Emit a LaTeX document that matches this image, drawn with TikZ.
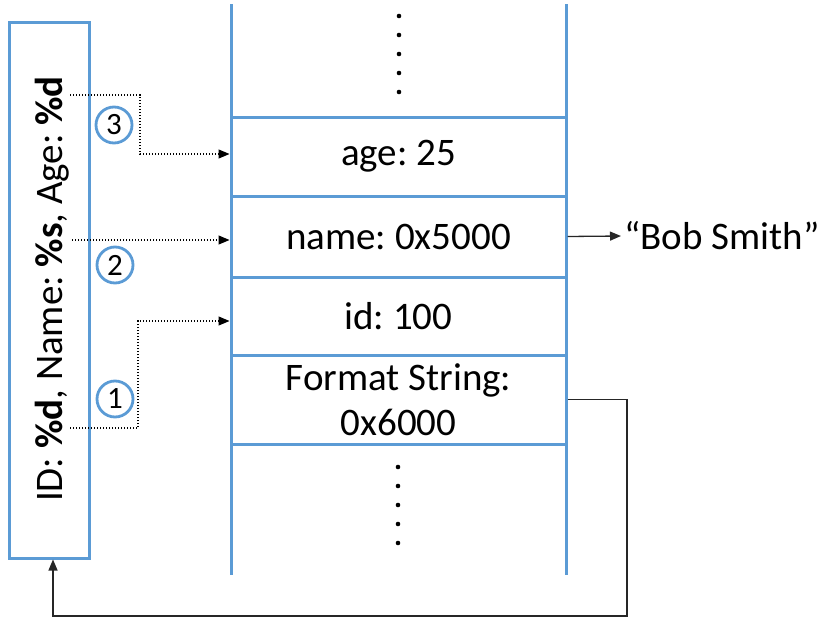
\documentclass[tikz,border=0pt]{standalone}
\usepackage{fontspec}
\setmainfont{Carlito}
\frenchspacing
\usetikzlibrary{arrows.meta}
\definecolor{stackblue}{HTML}{5B9BD5}
\begin{document}
\begin{tikzpicture}[x=1pt,y=-1pt,
  blueline/.style={draw=stackblue,line width=3pt},
  cell/.style={draw=stackblue,line width=3pt,minimum width=335pt,inner sep=0pt,
    font=\fontsize{39}{45}\selectfont\frenchspacing,align=center},
  ptr/.style={dash pattern=on 1.2pt off 1.8pt,line width=1.2pt,
    -{Triangle[length=11pt,width=9pt]}},
  conn/.style={line width=1.3pt,draw=black!85,-{Triangle[length=11pt,width=9pt]}},
  num/.style={circle,draw=stackblue,line width=2.8pt,minimum size=36pt,inner sep=0pt,
    font=\fontsize{31}{31}\selectfont},
  bigtext/.style={font=\fontsize{39}{45}\selectfont\frenchspacing},
]
\useasboundingbox (0,0) rectangle (824,621);

% stack cells
\node[cell,minimum height=79pt] (age) at (398.5,156.5) {age: 25};
\node[cell,minimum height=81pt] (name) at (398.5,236.5) {name: 0x5000};
\node[cell,minimum height=78pt] (id) at (398.5,316) {id: 100};
\node[cell,minimum height=89pt] (fmt) at (398.5,399.5) {Format String:\\0x6000};
\draw[blueline] (231,4) -- (231,575);
\draw[blueline] (566,4) -- (566,575);

% dots
\foreach \yy in {16,35,54,73,92} \fill (399,\yy) circle (2.3pt);
\foreach \yy in {467,486,505,524,543} \fill (398,\yy) circle (2.3pt);

% format string box
\node[draw=stackblue,line width=3pt,minimum width=80pt,minimum height=536pt,inner sep=0pt] (box) at (49,290) {};
\node[rotate=90,bigtext,inner sep=0pt] (boxtext) at (52,289)
  {ID: \textbf{\%d}, Name: \textbf{\%s}, Age: \textbf{\%d}};

% numbered circles
\node[num] (n3) at (114,125) {3};
\node[num] (n2) at (115,265) {2};
\node[num] (n1) at (115,399) {1};

% pointer arrows
\coordinate (s3) at (70,95);
\coordinate (s2) at (72,240);
\coordinate (s1) at (70,428);
\draw[ptr] (s3) -- ++(70,0) |- ([yshift=2.5pt]age.west);
\draw[ptr] (s2) -- (s2 -| name.west);
\draw[ptr] (s1) -- ++(68,0) |- ([yshift=-5pt]id.west);

% Bob Smith
\node[bigtext,anchor=west,inner sep=3pt] (bob) at (621,236) {“Bob Smith”};
\draw[conn] (name.east) -- (bob.west);

% back loop
\coordinate (c1) at (627,616);
\draw[conn] (fmt.east) -| (c1) -| ([xshift=4pt]box.south);
\end{tikzpicture}
\end{document}
